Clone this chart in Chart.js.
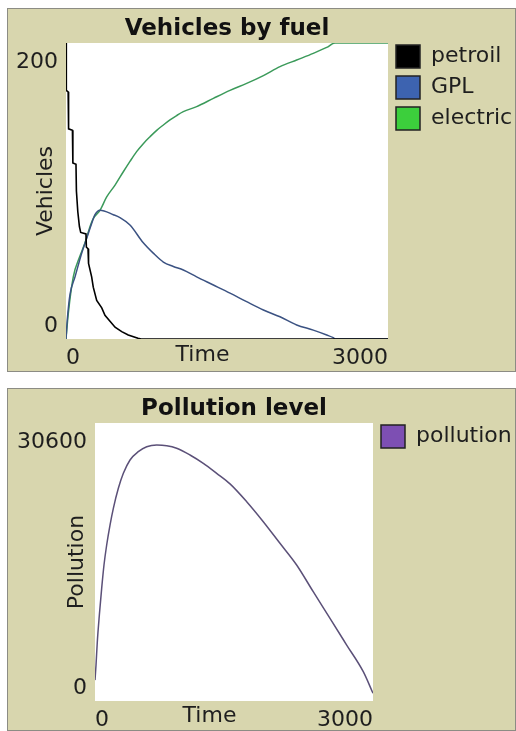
<!DOCTYPE html>
<html>
<head>
<meta charset="utf-8">
<script src="https://cdn.jsdelivr.net/npm/chart.js@4"></script>
<style>
  body { margin: 0; width: 516px; height: 731px; background: #fff; overflow: hidden; position: relative; }
  .panel { position: absolute; left: 7px; width: 509px; box-sizing: border-box; border: 1px solid #8c8c84; background: #d8d6ae; }
  #p1 { top: 8px; height: 364px; }
  #p2 { top: 388px; height: 343px; }
  canvas { position: absolute; left: 8px; }
  #fuelChart { top: 9px; }
  #pollutionChart { top: 389px; }
</style>
</head>
<body>
<div class="panel" id="p1"></div>
<div class="panel" id="p2"></div>
<canvas id="fuelChart" width="508" height="361"></canvas>
<canvas id="pollutionChart" width="508" height="341"></canvas>
<script>
// --- valeurs ---
const timeTicks = [0, 3000];
const vehicleTicks = [0, 200];
const pollutionTicks = [0, 30600];

const petroilTime  = [0, 3, 20, 24, 60, 64, 93, 97, 110, 125, 137, 186, 190, 205, 210, 239, 254, 286, 333, 363, 410, 457, 519, 580, 671, 700, 3000];
const petroilCount = [200, 168, 167, 142, 141, 119, 118, 100, 86, 76, 72, 71, 62, 61, 51, 42, 35, 26, 21, 16, 12, 8, 5, 2.7, 0.5, 0, 0];

const gplTime  = [0, 12, 37, 84, 146, 193, 239, 270, 317, 441, 503, 596, 720, 813, 907, 1000, 1093, 1217, 1373, 1528, 1683, 1839, 1994, 2149, 2304, 2429, 2490, 2510, 3000];
const gplCount = [0, 13, 30, 42, 58, 68, 78, 84, 87, 84, 82, 77, 65, 58, 52, 49, 46.6, 42, 36.5, 31, 25.2, 19.6, 15, 9.5, 6, 2.7, 0.9, 0, 0];

const electricTime  = [0, 21, 68, 130, 177, 224, 255, 317, 379, 457, 534, 596, 658, 720, 783, 845, 907, 969, 1031, 1093, 1217, 1373, 1528, 1683, 1839, 1994, 2149, 2304, 2429, 2506, 3000];
const electricCount = [0, 17, 42, 56, 65, 76, 81.5, 87, 96, 104, 113, 120, 126.6, 132, 136.7, 141, 144.6, 148, 151, 153.6, 157, 162.6, 168, 172.7, 178, 184, 188.5, 193, 197, 200, 200];

const pollutionTime  = [0, 11, 25, 47, 72, 97, 126, 162, 198, 252, 306, 378, 467, 558, 666, 774, 881, 1025, 1169, 1313, 1457, 1637, 1816, 1996, 2176, 2355, 2536, 2716, 2895, 3000];
const pollutionLevel = [2300, 3960, 6530, 9470, 12400, 14970, 17170, 19370, 21210, 23410, 25060, 26530, 27440, 27990, 28180, 28100, 27820, 27080, 26160, 25060, 23900, 21940, 19740, 17360, 14970, 12030, 9100, 6160, 3230, 850];

Chart.defaults.font.family = "'DejaVu Sans', sans-serif";
Chart.defaults.color = '#1e1e1e';

const toPoints = (xs, ys) => xs.map((x, i) => ({x: x, y: ys[i]}));

// fond blanc de la zone de tracé
const plotBackground = {
    id: 'plotBackground',
    beforeDraw(chart) {
        const {ctx, chartArea: a} = chart;
        ctx.save();
        ctx.fillStyle = '#ffffff';
        ctx.fillRect(a.left, a.top, a.right - a.left, a.bottom - a.top);
        ctx.restore();
    }
};

function makePlot(id, cfg) {
    const yMax = cfg.yTicks[cfg.yTicks.length - 1];
    return new Chart(document.getElementById(id), {
        type: 'line',
        data: { datasets: cfg.datasets },
        plugins: [plotBackground],
        options: {
            responsive: false,
            animation: false,
            events: [],
            layout: { padding: 0 },
            elements: { point: { radius: 0 }, line: { tension: 0, borderWidth: 1.6 } },
            plugins: {
                title: {
                    display: true, text: cfg.title, fullSize: false, color: '#111',
                    font: { size: 23, weight: 'bold' }, padding: { top: 6.4, bottom: 0 }
                },
                legend: {
                    position: 'right', align: 'start', maxWidth: cfg.legendWidth,
                    title: { display: true, text: '', font: { size: 10, lineHeight: '10px' }, padding: { top: 18, bottom: 0 } },
                    labels: {
                        boxWidth: 24, boxHeight: 23, padding: 8, font: { size: 22 },
                        generateLabels(chart) {
                            return Chart.defaults.plugins.legend.labels.generateLabels(chart)
                                .map(l => Object.assign(l, { strokeStyle: '#222', lineWidth: 1.5 }));
                        }
                    }
                },
                tooltip: { enabled: false }
            },
            scales: {
                x: {
                    type: 'linear', min: 0, max: timeTicks[timeTicks.length - 1],
                    grid: { display: false, drawTicks: false }, border: { display: false },
                    afterBuildTicks: s => { s.ticks = timeTicks.map(v => ({ value: v })); },
                    ticks: { align: 'inner', padding: 6, maxRotation: 0, autoSkip: false, font: { size: 22 }, callback: v => String(v) },
                    title: { display: true, text: 'Time       ', font: { size: 22 }, padding: { top: 0, bottom: cfg.xTitlePad } },
                    afterFit: s => { s.height = cfg.xHeight; s.paddingLeft = 0; s.paddingRight = 0; }
                },
                y: {
                    min: 0, max: yMax,
                    grid: { display: false, drawTicks: false }, border: { display: false },
                    afterBuildTicks: s => { s.ticks = cfg.yTicks.map(v => ({ value: v })); },
                    ticks: {
                        padding: 8, autoSkip: false, font: { size: 22, lineHeight: '13px' },
                        // étiquettes poussées vers l'intérieur comme dans NetLogo
                        callback: v => v === yMax ? ['', '', '', String(v)] : [String(v), '', '']
                    },
                    title: { display: true, text: cfg.yTitle, font: { size: 22 }, padding: { top: cfg.yTitlePad, bottom: 0 } },
                    afterFit: s => { s.width = cfg.yWidth; s.paddingTop = 0; s.paddingBottom = 0; }
                }
            }
        }
    });
}

makePlot('fuelChart', {
    title: 'Vehicles by fuel', yTitle: 'Vehicles', yTicks: vehicleTicks,
    yWidth: 58, xHeight: 31, legendWidth: 128, yTitlePad: 25, xTitlePad: 2,
    datasets: [
        { label: 'petroil', data: toPoints(petroilTime, petroilCount), borderColor: '#000000', backgroundColor: '#000000' },
        { label: 'GPL', data: toPoints(gplTime, gplCount), borderColor: '#3b5282', backgroundColor: '#3d63b0', borderWidth: 1.5, cubicInterpolationMode: 'monotone' },
        { label: 'electric', data: toPoints(electricTime, electricCount), borderColor: '#3b9a5a', backgroundColor: '#3ccf3c', borderWidth: 1.5, cubicInterpolationMode: 'monotone' }
    ]
});

makePlot('pollutionChart', {
    title: 'Pollution level', yTitle: 'Pollution', yTicks: pollutionTicks,
    yWidth: 87, xHeight: 29, legendWidth: 143, yTitlePad: 56, xTitlePad: 1,
    datasets: [
        { label: 'pollution', data: toPoints(pollutionTime, pollutionLevel), borderColor: '#5b5078', backgroundColor: '#7d4fb3', borderWidth: 1.5, cubicInterpolationMode: 'monotone' }
    ]
});
</script>
</body>
</html>
